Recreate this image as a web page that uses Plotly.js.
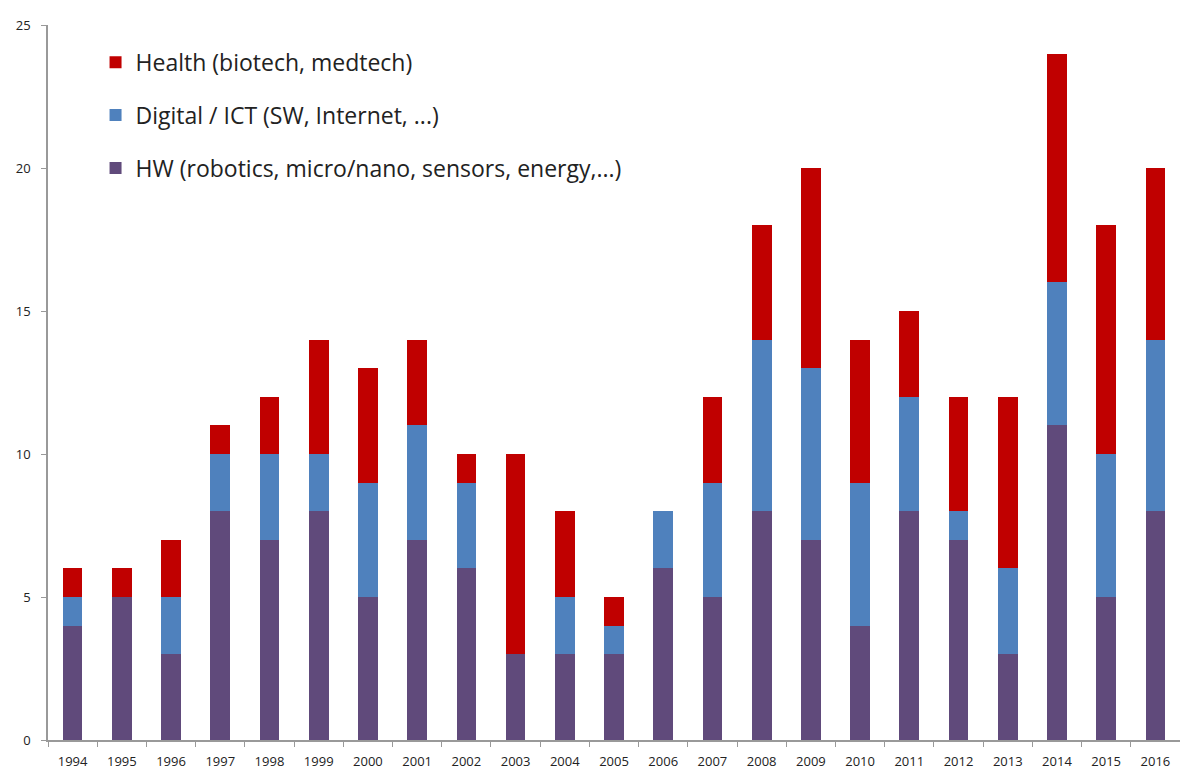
<!DOCTYPE html>
<html>
<head>
<meta charset="utf-8">
<script src="https://cdn.plot.ly/plotly-3.0.1.min.js"></script>
<style>html,body{margin:0;padding:0;background:#fff;}#chart{width:1180px;height:772px;}</style>
</head>
<body>
<div id="chart"></div>
<script>
const years = ["1994","1995","1996","1997","1998","1999","2000","2001","2002","2003","2004","2005","2006","2007","2008","2009","2010","2011","2012","2013","2014","2015","2016"];
const hw      = [4,5,3,8,7,8,5,7,6,3,3,3,6,5,8,7,4,8,7,3,11,5,8];
const digital = [1,0,2,2,3,2,4,4,3,0,2,1,2,4,6,6,5,4,1,3,5,5,6];
const health  = [1,1,2,1,2,4,4,3,1,7,3,1,0,3,4,7,5,3,4,6,8,8,6];
const seriesNames = ["HW (robotics, micro/nano, sensors, energy,...)","Digital / ICT (SW, Internet, ...)","Health (biotech, medtech)"];
const colors = ["#604A7B","#4F81BD","#C00000"];
const yTicks = [0,5,10,15,20,25];

const traces = [hw, digital, health].map((vals, i) => ({
  type: "bar", x: years, y: vals, name: seriesNames[i],
  legendgroup: "g" + i, legendrank: 1000 - i,
  marker: {color: colors[i], line: {width: 0}}
}));

const layout = {
  width: 1180, height: 772,
  margin: {l: 48, r: 0, t: 25, b: 32},
  barmode: "stack", bargap: 0.6,
  paper_bgcolor: "#fff", plot_bgcolor: "#fff",
  font: {family: "Open Sans, Liberation Sans, sans-serif", color: "#222"},
  showlegend: true,
  legend: {x: 0.042, y: 0.978, xanchor: "left", yanchor: "top", traceorder: "grouped",
           tracegroupgap: 20, font: {size: 23, color: "#222"}, bgcolor: "rgba(0,0,0,0)"},
  xaxis: {type: "category", showline: true, linecolor: "#999", linewidth: 1.5,
          ticks: "outside", tickson: "boundaries", ticklen: 5, tickcolor: "#999",
          ticklabelstandoff: 9,
          tickfont: {size: 13, color: "#222"}, showgrid: false, zeroline: false},
  yaxis: {range: [0, 25], tickvals: yTicks, showline: true, linecolor: "#999", linewidth: 1.5,
          ticks: "outside", ticklen: 5, tickcolor: "#999", ticklabelstandoff: 8,
          tickfont: {size: 13, color: "#222"}, showgrid: false, zeroline: false}
};
Plotly.newPlot("chart", traces, layout, {displayModeBar: false});
</script>
</body>
</html>
